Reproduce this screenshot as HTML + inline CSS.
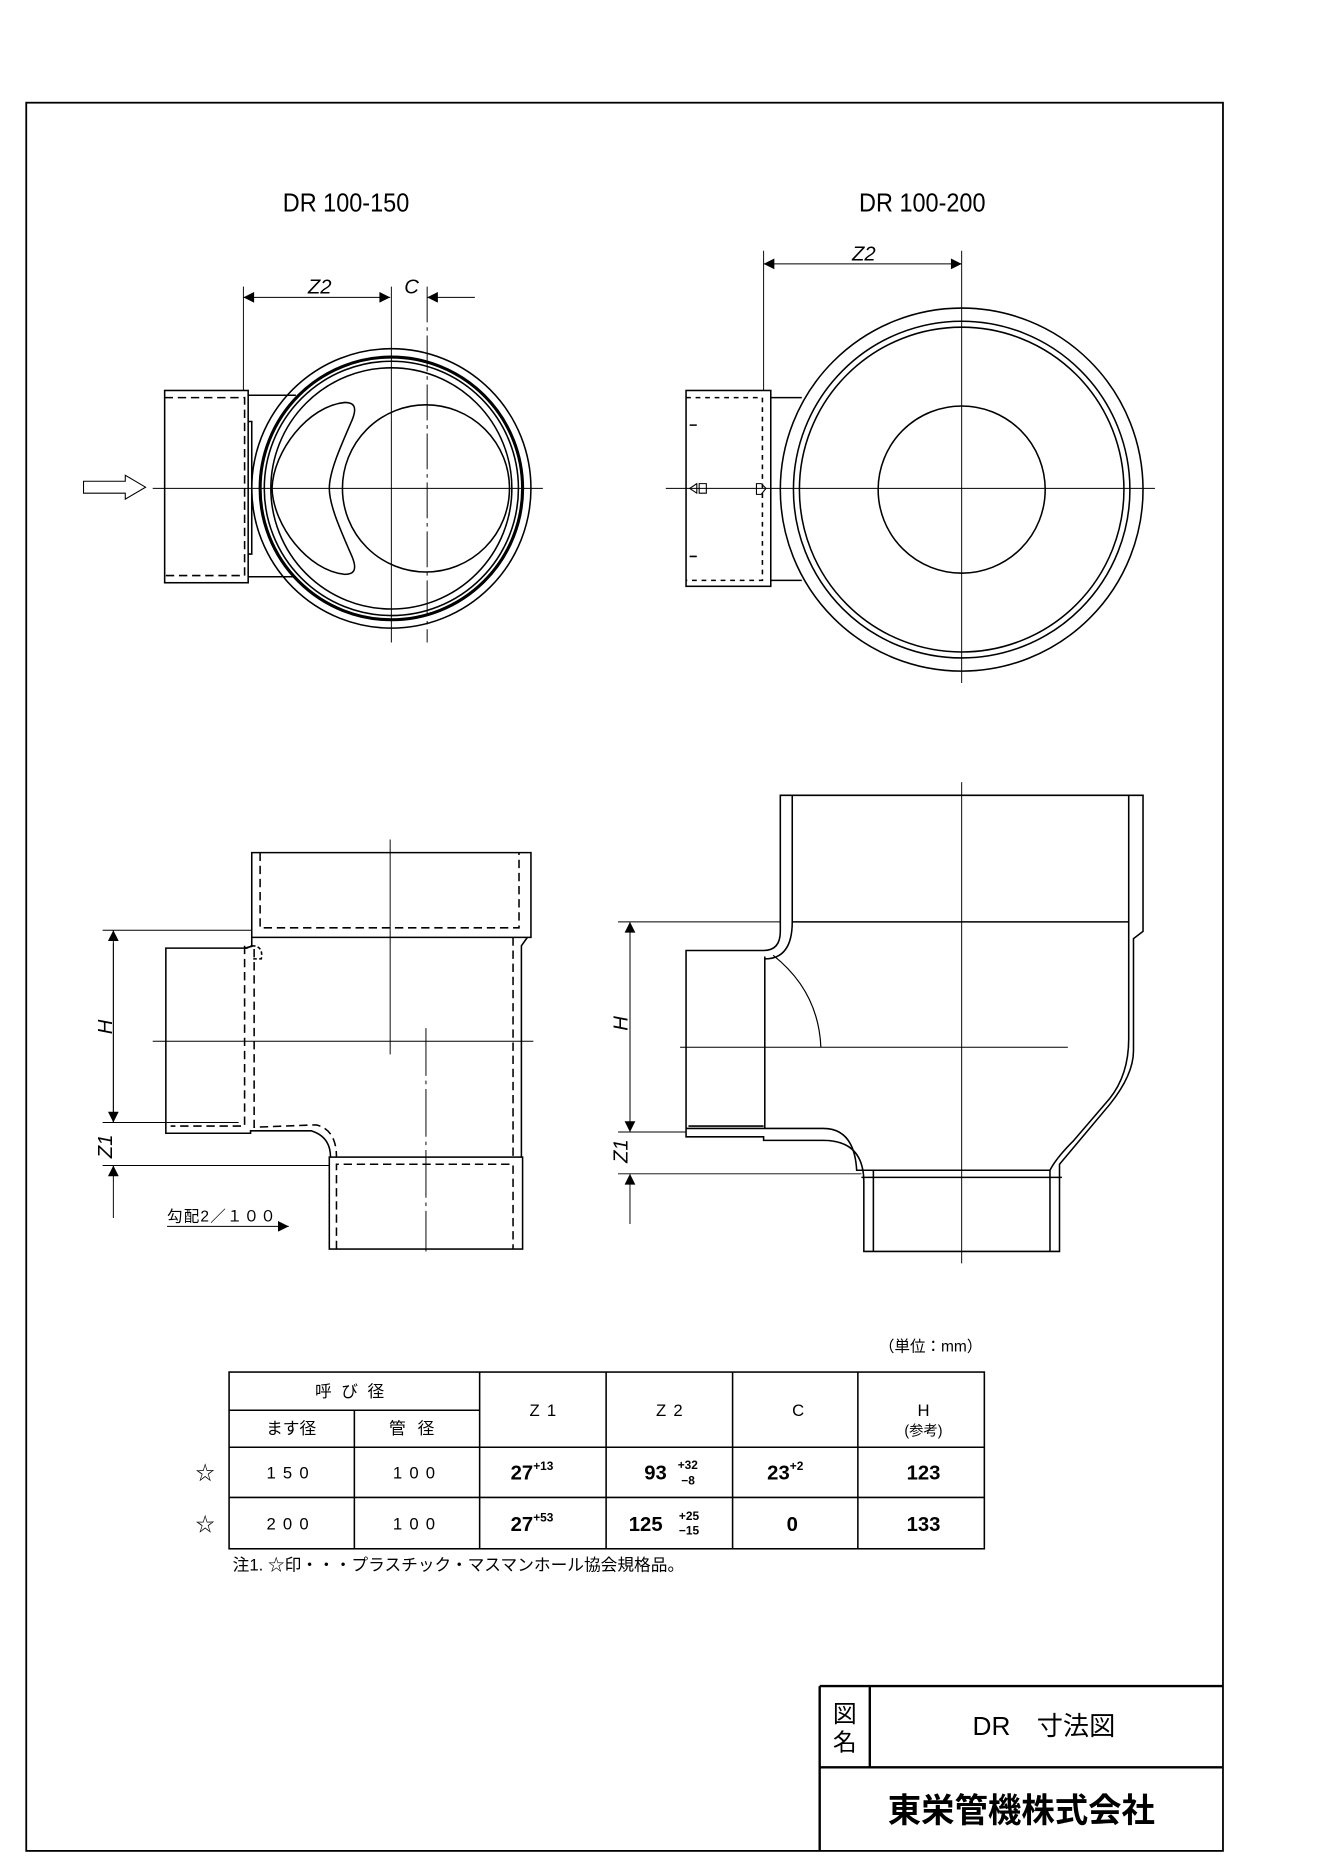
<!DOCTYPE html>
<html><head><meta charset="utf-8"><style>
html,body{margin:0;padding:0;background:#fff;}
svg{display:block;}
text{font-family:"Liberation Sans","Noto Sans CJK JP",sans-serif;fill:#000;}
</style></head><body>
<svg width="1322" height="1870" viewBox="0 0 1108 1566" preserveAspectRatio="none" xmlns="http://www.w3.org/2000/svg">
<defs>
<marker id="a" viewBox="0 0 10 10" refX="10" refY="5" markerWidth="20" markerHeight="9" markerUnits="userSpaceOnUse" orient="auto-start-reverse"><path d="M0,0L10,5L0,10z" fill="#000"/></marker>
</defs>
<g fill="none" stroke="#000" stroke-width="1.3">
<rect x="22" y="86" width="1003" height="1464" stroke-width="1.5"/>
<path d="M687 1412H1025M687 1480H1025M687 1412V1550M729 1412V1480" stroke-width="2"/>

<!-- TOP LEFT -->
<path d="M128 409H455M328 240V538" stroke-width="0.8"/>
<path d="M358 240V538" stroke-width="0.8" stroke-dasharray="30,4,3,4"/>
<path d="M204 240V327" stroke-width="0.8"/>
<path d="M204 249H327" stroke-width="0.8" marker-start="url(#a)" marker-end="url(#a)"/>
<path d="M398 249H358" stroke-width="0.8" marker-end="url(#a)"/>
<circle cx="328" cy="409" r="117"/>
<circle cx="328" cy="409" r="110" stroke-width="2.6"/>
<circle cx="328" cy="409" r="106.5"/>
<circle cx="328" cy="409" r="101"/>
<circle cx="357" cy="409" r="70"/>
<path d="M289 337C296 337 300 340 295 352C285 375 276 395 276 409C276 423 285 443 295 466C300 478 296 481 289 481C258 478 229 440 228 409C229 378 258 340 289 337Z"/>
<rect x="138" y="327" width="70" height="161"/>
<path d="M138 333H205V482H138" stroke-dasharray="7,4"/>
<path d="M208 331H248M208 483H248M208 353H211V464H208"/>
<path d="M70 403H105V398L122 408L105 418V413H70Z" stroke-width="0.9"/>

<!-- TOP RIGHT -->
<path d="M558 409H968M806 210V572" stroke-width="0.8"/>
<path d="M640 210V327" stroke-width="0.8"/>
<path d="M640 221H806" stroke-width="0.8" marker-start="url(#a)" marker-end="url(#a)"/>
<circle cx="806" cy="410" r="152"/>
<circle cx="806" cy="410" r="141"/>
<circle cx="806" cy="410" r="136"/>
<circle cx="806" cy="410" r="70"/>
<rect x="575" y="327" width="71" height="164"/>
<path d="M575 333H639V486H575" stroke-dasharray="4,4"/>
<path d="M646 333H672M646 486H672M578 356H584M578 466H584"/>
<path d="M578 409L584 405V413Z M586 405H592V413H586Z M634 405H638L642 409L638 414H634Z" stroke-width="0.9"/>

<!-- BOTTOM LEFT -->
<path d="M128 872H447M327 703V883" stroke-width="0.8"/>
<path d="M357 861V1048" stroke-width="0.8" stroke-dasharray="40,4,3,4"/>
<path d="M211 714H445V785H211Z"/>
<path d="M218 714V777H435V714" stroke-dasharray="7,4"/>
<path d="M211 785V792L207 794H139V949H210V947H261Q277 952 277 969"/>
<path d="M205 792V943H143M205 794L213 792V944L265 942Q282 946 282 969" stroke-dasharray="7,4"/>
<path d="M442 785L437 792V969"/>
<path d="M430 785V969" stroke-dasharray="7,4"/>
<rect x="276" y="969" width="162" height="77"/>
<path d="M282 1046V975H430V1046" stroke-dasharray="7,4"/>
<path d="M211 792Q221 792 219 803H212" stroke-dasharray="3,2"/>
<path d="M86 779H211M86 940H200M86 976H276" stroke-width="0.8"/>
<path d="M95 940V779" stroke-width="0.8" marker-end="url(#a)"/>
<path d="M95 790V940" stroke-width="0.8" marker-end="url(#a)"/>
<path d="M95 1020V976" stroke-width="0.8" marker-end="url(#a)"/>
<path d="M140 1027H242" stroke-width="0.8" marker-end="url(#a)"/>

<!-- BOTTOM RIGHT -->
<path d="M570 877H895M806 655V1058" stroke-width="0.8"/>
<path d="M654 666H958V780L950 786V880Q950 900 930 925L888 975V1048H724V990Q724 955 690 955H640V952H575V796H640Q654 796 654 780Z"/>
<path d="M664 666V772H946V666M664 772Q664 803 641 803M641 801V945H575M577 943H640M640 945H690Q716 945 718 980H880Q885 970 900 955L930 920Q946 900 946 870V772M732 980V1048M880 980V1048M722 986H890"/>
<path d="M648 800Q686 830 688 877" stroke-width="1"/>
<path d="M518 772H654M518 948H575M518 983H722" stroke-width="0.8"/>
<path d="M528 948V772" stroke-width="0.8" marker-end="url(#a)"/>
<path d="M528 780V948" stroke-width="0.8" marker-end="url(#a)"/>
<path d="M528 1025V983" stroke-width="0.8" marker-end="url(#a)"/>

<!-- TABLE -->
<rect x="192" y="1149" width="633" height="148"/>
<path d="M192 1181H402M192 1212H825M192 1254H825M297 1181V1297M402 1149V1297M508 1149V1297M614 1149V1297M719 1149V1297"/>
</g>

<text x="290" y="177" font-size="22" text-anchor="middle" textLength="106" lengthAdjust="spacingAndGlyphs">DR 100-150</text>
<text x="773" y="177" font-size="22" text-anchor="middle" textLength="106" lengthAdjust="spacingAndGlyphs">DR 100-200</text>
<g font-style="italic" font-size="17">
<text x="268" y="246" text-anchor="middle">Z2</text>
<text x="345" y="246" text-anchor="middle">C</text>
<text x="724" y="218" text-anchor="middle">Z2</text>
<text transform="translate(94,860) rotate(-90)" text-anchor="middle">H</text>
<text transform="translate(94,960) rotate(-90)" text-anchor="middle">Z1</text>
<text transform="translate(526,857) rotate(-90)" text-anchor="middle">H</text>
<text transform="translate(526,964) rotate(-90)" text-anchor="middle">Z1</text>
</g>
<text x="140" y="1023" font-size="13" letter-spacing="1">勾配2／１００</text>

<text x="780" y="1132" font-size="13" text-anchor="middle">（単位：mm）</text>
<g font-size="14" text-anchor="middle">
<text x="297" y="1170" letter-spacing="8">呼び径</text>
<text x="244" y="1201">ます径</text>
<text x="350" y="1201" letter-spacing="10">管径</text>
<text x="458" y="1186" letter-spacing="6">Z1</text>
<text x="564" y="1186" letter-spacing="6">Z2</text>
<text x="669" y="1186">C</text>
<text x="774" y="1186">H</text>
<text x="774" y="1202" font-size="12">(参考)</text>
<text x="244" y="1238" letter-spacing="6">150</text>
<text x="350" y="1238" letter-spacing="6">100</text>
<text x="244" y="1281" letter-spacing="6">200</text>
<text x="350" y="1281" letter-spacing="6">100</text>
<text x="172" y="1239" font-size="16">☆</text>
<text x="172" y="1282" font-size="16">☆</text>
</g>
<g font-size="17" font-weight="bold">
<text x="428" y="1239">27<tspan font-size="10" dy="-8">+13</tspan></text>
<text x="540" y="1239">93</text><text x="568" y="1230" font-size="10">+32</text><text x="571" y="1243" font-size="10">−8</text>
<text x="643" y="1239">23<tspan font-size="10" dy="-8">+2</tspan></text>
<text x="774" y="1239" text-anchor="middle">123</text>
<text x="428" y="1282">27<tspan font-size="10" dy="-8">+53</tspan></text>
<text x="527" y="1282">125</text><text x="569" y="1273" font-size="10">+25</text><text x="569" y="1285" font-size="10">−15</text>
<text x="664" y="1282" text-anchor="middle">0</text>
<text x="774" y="1282" text-anchor="middle">133</text>
</g>
<text x="195" y="1315" font-size="14">注1. ☆印・・・プラスチック・マスマンホール協会規格品。</text>

<text x="708" y="1442" font-size="20" text-anchor="middle">図</text>
<text x="708" y="1466" font-size="20" text-anchor="middle">名</text>
<text x="875" y="1453" font-size="22" text-anchor="middle">DR　寸法図</text>
<text x="856" y="1526" font-size="28" font-weight="bold" text-anchor="middle">東栄管機株式会社</text>
</svg>
</body></html>
